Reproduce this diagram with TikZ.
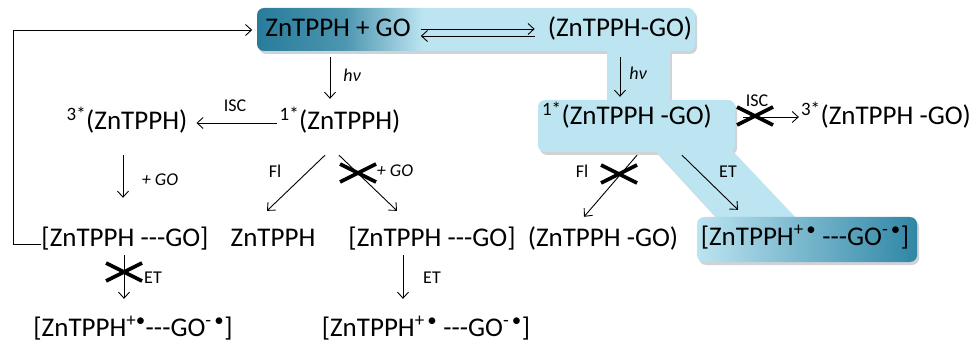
\documentclass[tikz,border=0pt]{standalone}
\usepackage{fontspec}
\setmainfont{Carlito}
\usetikzlibrary{arrows.meta,calc}

\definecolor{tealdark}{RGB}{40,124,155}
\definecolor{tealdeep}{RGB}{48,134,166}
\definecolor{teallight}{RGB}{188,228,241}
\definecolor{shadowgray}{RGB}{208,211,213}
\pgfdeclarehorizontalshading{barshade}{100bp}{color(0bp)=(tealdark); color(25bp)=(tealdark); color(35bp)=(tealdark!75!teallight); color(44bp)=(teallight); color(100bp)=(teallight)}

\tikzset{
  species/.style={font=\fontsize{27}{30}\selectfont, inner sep=0pt, text height=19.5pt, text depth=5.5pt},
  tag/.style={font=\fontsize{18}{21}\selectfont, inner sep=0pt},
  rx/.style={-{Straight Barb[length=6pt,width=11pt]}, line width=0.9pt},
  nogo/.pic={\draw[line width=3.6pt] (-18,-9) -- (18,9) (-18,9) -- (18,-9);}
}

\begin{document}
\begin{tikzpicture}[x=1pt,y=-1pt]
\useasboundingbox (0,0) rectangle (978,342);

\begin{scope}[shift={(2,3)}]
\fill[shadowgray] (607,45) rectangle (670,104);
\fill[shadowgray] (650,145) -- (727,145) -- (797,219) -- (718,219) -- cycle;
\fill[shadowgray, rounded corners=7pt] (257,8) rectangle (695,51);
\fill[shadowgray, rounded corners=7pt] (538,100) rectangle (735,152);
\fill[shadowgray, rounded corners=7pt] (697,217) rectangle (917,262);
\end{scope}
\fill[teallight] (607,45) rectangle (670,104);
\fill[teallight] (650,145) -- (727,145) -- (797,219) -- (718,219) -- cycle;
\shade[shading=barshade, rounded corners=7pt] (257,8) rectangle (695,51);
\fill[teallight, rounded corners=7pt] (538,100) rectangle (735,152);
\shade[left color=teallight, right color=tealdeep, rounded corners=7pt] (697,217) rectangle (917,262);

\node[species] (zg) at (338,30) {ZnTPPH + GO};
\node[species] (zgc) at (620,30) {(ZnTPPH-GO)};
\node[species] (t3) at (127,123) {\textsuperscript{3*}(ZnTPPH)};
\node[species] (s1) at (340,123) {\textsuperscript{1*}(ZnTPPH)};
\node[species] (s1c) at (627,118) {\textsuperscript{1*}(ZnTPPH -GO)};
\node[species] (t3c) at (886,118) {\textsuperscript{3*}(ZnTPPH -GO)};
\node[species] (ca) at (125,239) {[ZnTPPH -{}-{}-GO]};
\node[species] (zn) at (273,239) {ZnTPPH};
\node[species] (cb) at (432,239) {[ZnTPPH -{}-{}-GO]};
\node[species] (zc) at (603,239) {(ZnTPPH -GO)};
\node[species] (rp) at (805,238) {[ZnTPPH\textsuperscript{+\,\textbullet} -{}-{}-GO\textsuperscript{-\,\textbullet}]};
\node[species] (ra) at (133,329) {[ZnTPPH\textsuperscript{+\textbullet}-{}-{}-GO\textsuperscript{-\,\textbullet}]};
\node[species] (rb) at (426,329) {[ZnTPPH\textsuperscript{+\,\textbullet} -{}-{}-GO\textsuperscript{-\,\textbullet}]};

\node[tag] (hv1) at (352,75) {\itshape hν};
\node[tag] (hv2) at (638,73) {\itshape hν};
\node[tag] (isc1) at (235,106) {ISC};
\node[tag] (isc2) at (757,101) {ISC};
\node[tag] (go1) at (160,180) {\itshape + GO};
\node[tag] (fl1) at (275,171) {Fl};
\node[tag] (go2) at (395,171) {\itshape + GO};
\node[tag] (fl2) at (582,171) {Fl};
\node[tag] (et1) at (728,172) {ET};
\node[tag] (et2) at (153,278) {ET};
\node[tag] (et3) at (432,278) {ET};

\draw[rx] ($(zg.east)+(10,-1)$) -- ($(zgc.west)+(-13,-1)$);
\draw[rx] ($(zgc.west)+(-13,6)$) -- ($(zg.east)+(10,6)$);
\draw[rx] ($(zg.south)+(-8,14.5)$) -- ($(s1.north)+(-10,-11.5)$);
\draw[rx] ($(zgc.south)+(0,14.5)$) -- ($(s1c.north)+(-7,-8.5)$);
\draw[rx] ($(s1.west)+(-3,0)$) -- ($(t3.east)+(9,0)$);
\draw[rx] ($(s1c.east)+(31,-1)$) -- ($(t3c.west)+(-2,-1)$);
\draw[rx] ($(t3.south)+(-4,19.5)$) -- ($(ca.north)+(-2,-28.5)$);
\draw[rx] ($(s1.south)+(-15,19.5)$) -- ($(zn.north)+(-6,-15.5)$);
\draw[rx] ($(s1.south)+(-1,19.5)$) -- ($(cb.north)+(-35,-15.5)$);
\draw[rx] ($(s1c.south)+(10,24.5)$) -- ($(zc.north)+(-19,-9.5)$);
\draw[rx] ($(s1c.south)+(55,24.5)$) -- ($(rp.north)+(-67,-15.5)$);
\draw[rx] ($(ca.south)+(-1,3.5)$) -- ($(ra.north)+(-9,-17.5)$);
\draw[rx] ($(cb.south)+(-29,3.5)$) -- ($(rb.north)+(-23,-17.5)$);
\draw[rx] ($(ca.west)+(0,5)$) -- ++(-28,0) |- ($(zg.west)+(-13,0)$);

\pic at (358,173) {nogo};
\pic at (755,116) {nogo};
\pic at (619,174) {nogo};
\pic at (124,272) {nogo};
\end{tikzpicture}
\end{document}
